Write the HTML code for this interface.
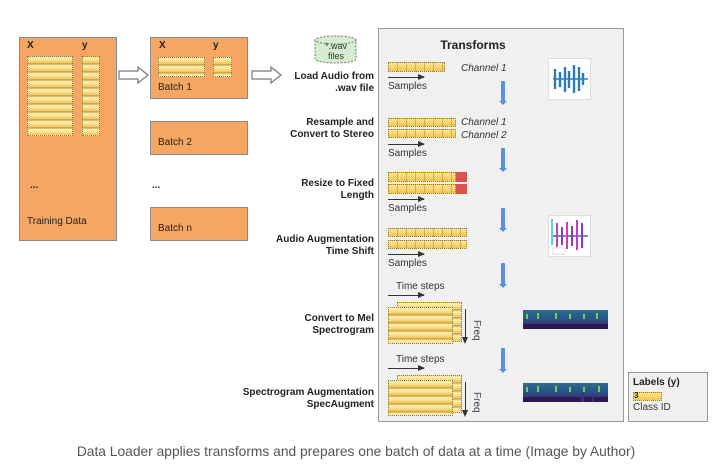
<!DOCTYPE html>
<html><head><meta charset="utf-8">
<style>
*{margin:0;padding:0;box-sizing:border-box}
body{width:712px;height:475px;background:#fff;position:relative;overflow:hidden;font-family:"Liberation Sans",Arial,sans-serif}
.a{position:absolute}
.or{position:absolute;border:1.5px solid #8a8a8a;background:#f5a662}
.b{font-weight:bold;font-size:10px;color:#222;line-height:12px}
.lbl{position:absolute;right:338px;text-align:right;font-weight:bold;font-size:10px;color:#222;line-height:12px;white-space:nowrap}
.st{position:absolute;border:1px dotted #8a7a40;background:repeating-linear-gradient(90deg,transparent 0 8px,rgba(120,100,40,.35) 8px 9px),linear-gradient(#fde49a,#f5c64a)}
.rows{position:absolute;border:1px dotted #8a7a40;background:repeating-linear-gradient(180deg,#fbe9a8 0 2px,#f3c550 6px,#b09040 7px,#fbe9a8 8px)}
.sm{position:absolute;font-size:10px;color:#333}
.it{position:absolute;font-size:10px;color:#333;font-style:italic}
.arr{position:absolute;height:1px;background:#333}
.arr:after{content:"";position:absolute;right:-1px;top:-3px;border-left:7px solid #333;border-top:3.5px solid transparent;border-bottom:3.5px solid transparent}
.bl{position:absolute;width:4px;background:#5b8fe0;border-radius:1px}
.bl:after{content:"";position:absolute;left:-2px;bottom:-3px;border-top:4px solid #5b8fe0;border-left:4px solid transparent;border-right:4px solid transparent}
</style></head><body>

<div class="or" style="left:19px;top:37px;width:98px;height:204px"></div>
<div class="a b" style="left:27px;top:40px">X</div>
<div class="a b" style="left:82px;top:40px">y</div>
<div class="rows" style="left:27px;top:56px;width:46px;height:80px"></div>
<div class="rows" style="left:82px;top:56px;width:18px;height:80px"></div>
<div class="a b" style="left:30px;top:180px">...</div>
<div class="a" style="left:27px;top:216px;font-size:10px;color:#222">Training Data</div>

<svg class="a" style="left:118px;top:66px" width="32" height="18"><path d="M1 5 H20 V1 L30 9 L20 17 V13 H1 Z" fill="#fff" stroke="#777" stroke-width="1.2"/></svg>
<svg class="a" style="left:251px;top:66px" width="32" height="18"><path d="M1 5 H20 V1 L30 9 L20 17 V13 H1 Z" fill="#fff" stroke="#777" stroke-width="1.2"/></svg>

<div class="or" style="left:150px;top:37px;width:98px;height:62px"></div>
<div class="a b" style="left:159px;top:40px">X</div>
<div class="a b" style="left:213px;top:40px">y</div>
<div class="rows" style="left:158px;top:57px;width:47px;height:20px"></div>
<div class="rows" style="left:213px;top:57px;width:19px;height:20px"></div>
<div class="a" style="left:158px;top:82px;font-size:10px;color:#222">Batch 1</div>
<div class="or" style="left:150px;top:121px;width:98px;height:34px"></div>
<div class="a" style="left:158px;top:137px;font-size:10px;color:#222">Batch 2</div>
<div class="a b" style="left:152px;top:180px">...</div>
<div class="or" style="left:150px;top:207px;width:98px;height:34px"></div>
<div class="a" style="left:158px;top:223px;font-size:10px;color:#222">Batch n</div>

<svg class="a" style="left:314px;top:35px" width="44" height="30"><path d="M1 5 V24 A20.5 4 0 0 0 42 24 V5" fill="#d5ecd0" stroke="#777" stroke-dasharray="2 1.5"/><ellipse cx="21.5" cy="5" rx="20.5" ry="4" fill="#d5ecd0" stroke="#777" stroke-dasharray="2 1.5"/></svg>
<div class="a" style="left:314px;top:41px;width:44px;text-align:center;font-size:9px;color:#333;line-height:10px">*.wav<br>files</div>

<div class="lbl" style="top:71px">Load Audio from<br>.wav file</div>
<div class="lbl" style="top:117px">Resample and<br>Convert to Stereo</div>
<div class="lbl" style="top:178px">Resize to Fixed<br>Length</div>
<div class="lbl" style="top:234px">Audio Augmentation<br>Time Shift</div>
<div class="lbl" style="top:313px">Convert to Mel<br>Spectrogram</div>
<div class="lbl" style="top:387px">Spectrogram Augmentation<br>SpecAugment</div>

<div class="a" style="left:378px;top:28px;width:246px;height:394px;background:#f0f0f0;border:1.5px solid #999"></div>
<div class="a" style="left:378px;top:38px;width:190px;text-align:center;font-weight:bold;font-size:12px;color:#222">Transforms</div>

<div class="st" style="left:388px;top:62px;width:57px;height:10px"></div>
<div class="it" style="left:461px;top:63px">Channel 1</div>
<div class="arr" style="left:388px;top:77px;width:36px"></div>
<div class="sm" style="left:388px;top:81px">Samples</div>
<div class="st" style="left:388px;top:118px;width:68px;height:9px"></div>
<div class="st" style="left:388px;top:129px;width:68px;height:9px"></div>
<div class="it" style="left:461px;top:117px">Channel 1</div>
<div class="it" style="left:461px;top:130px">Channel 2</div>
<div class="arr" style="left:388px;top:144px;width:36px"></div>
<div class="sm" style="left:388px;top:148px">Samples</div>
<div class="st" style="left:388px;top:172px;width:68px;height:10px"></div>
<div class="st" style="left:388px;top:184px;width:68px;height:10px"></div>
<div class="a" style="left:456px;top:172px;width:11px;height:10px;background:#d9534f"></div>
<div class="a" style="left:456px;top:184px;width:11px;height:10px;background:#d9534f"></div>
<div class="arr" style="left:388px;top:199px;width:36px"></div>
<div class="sm" style="left:388px;top:203px">Samples</div>
<div class="st" style="left:388px;top:228px;width:79px;height:9px"></div>
<div class="st" style="left:388px;top:240px;width:79px;height:9px"></div>
<div class="arr" style="left:388px;top:254px;width:36px"></div>
<div class="sm" style="left:388px;top:258px">Samples</div>
<div class="sm" style="left:396px;top:281px">Time steps</div>
<div class="arr" style="left:388px;top:295px;width:36px"></div>
<div class="rows" style="left:397px;top:302px;width:65px;height:40px"></div>
<div class="rows" style="left:388px;top:307px;width:65px;height:37px"></div>
<div class="a" style="left:465px;top:309px;width:1px;height:30px;background:#333"></div>
<div class="a" style="left:462px;top:337px;border-top:7px solid #333;border-left:3.5px solid transparent;border-right:3.5px solid transparent"></div>
<div class="a" style="top:320px;font-size:10px;color:#444;transform:rotate(90deg);transform-origin:left top;left:482px">Freq</div>
<div class="sm" style="left:396px;top:354px">Time steps</div>
<div class="arr" style="left:388px;top:368px;width:36px"></div>
<div class="rows" style="left:397px;top:375px;width:65px;height:38px"></div>
<div class="rows" style="left:388px;top:380px;width:65px;height:36px"></div>
<div class="a" style="left:465px;top:382px;width:1px;height:30px;background:#333"></div>
<div class="a" style="left:462px;top:410px;border-top:7px solid #333;border-left:3.5px solid transparent;border-right:3.5px solid transparent"></div>
<div class="a" style="font-size:10px;color:#444;transform:rotate(90deg);transform-origin:left top;left:482px;top:392px">Freq</div>

<div class="bl" style="left:501px;top:81px;height:21px"></div>
<div class="bl" style="left:501px;top:148px;height:21px"></div>
<div class="bl" style="left:501px;top:208px;height:21px"></div>
<div class="bl" style="left:501px;top:263px;height:22px"></div>
<div class="bl" style="left:501px;top:348px;height:22px"></div>

<svg class="a" style="left:548px;top:58px" width="43" height="42"><rect x=".5" y=".5" width="42" height="41" fill="#fff" stroke="#ddd"/>
<g stroke="#2b7bb9" stroke-width="2.4"><line x1="5" y1="21" x2="40" y2="21" stroke-width="1.5"/><line x1="7" y1="11" x2="7" y2="31"/><line x1="12" y1="14" x2="12" y2="29"/><line x1="17" y1="9" x2="17" y2="34"/><line x1="21" y1="13" x2="21" y2="30"/><line x1="26" y1="7" x2="26" y2="35"/><line x1="31" y1="9" x2="31" y2="33"/><line x1="35" y1="15" x2="35" y2="27"/></g></svg>
<svg class="a" style="left:548px;top:215px" width="43" height="42"><rect x=".5" y=".5" width="42" height="41" fill="#fff" stroke="#ddd"/>
<g stroke-width="2"><line x1="4" y1="4" x2="4" y2="30" stroke="#5cd6d6"/><line x1="5" y1="21" x2="40" y2="21" stroke="#5050c0" stroke-width="1.5"/><line x1="9" y1="8" x2="9" y2="32" stroke="#c040c0"/><line x1="14" y1="12" x2="14" y2="30" stroke="#8040c0"/><line x1="19" y1="7" x2="19" y2="34" stroke="#c040c0"/><line x1="24" y1="11" x2="24" y2="31" stroke="#8040c0"/><line x1="29" y1="5" x2="29" y2="35" stroke="#c040c0"/><line x1="34" y1="8" x2="34" y2="33" stroke="#8040c0"/></g>
<rect x="5" y="33" width="12" height="6" fill="#fff" stroke="#bbb" stroke-width=".5"/></svg>
<svg class="a" style="left:523px;top:310px" width="85" height="19"><defs><linearGradient id="g" x1="0" y1="0" x2="0" y2="1"><stop offset="0" stop-color="#2a6f8a"/><stop offset=".5" stop-color="#2d4f8a"/><stop offset="1" stop-color="#3b1c5c"/></linearGradient></defs><rect width="85" height="19" fill="url(#g)"/><rect y="14" width="85" height="5" fill="#2e1650"/>
<g fill="#6fd05a"><rect x="3" y="4" width="2" height="5"/><rect x="14" y="3" width="2" height="6"/><rect x="32" y="3" width="2" height="6"/><rect x="46" y="4" width="2" height="5"/><rect x="60" y="4" width="2" height="5"/><rect x="73" y="3" width="2" height="6"/></g></svg>
<svg class="a" style="left:523px;top:383px" width="85" height="19"><rect width="85" height="19" fill="url(#g)"/><rect y="14" width="85" height="5" fill="#2e1650"/>
<g fill="#6fd05a"><rect x="3" y="4" width="2" height="5"/><rect x="14" y="3" width="2" height="6"/><rect x="32" y="3" width="2" height="6"/><rect x="46" y="4" width="2" height="5"/><rect x="60" y="4" width="2" height="5"/><rect x="75" y="3" width="2" height="6"/></g><rect x="58" y="9" width="3" height="10" fill="#2b3a80"/><rect x="69" y="10" width="2" height="9" fill="#2b3a80"/></svg>

<div class="a" style="left:628px;top:372px;width:80px;height:50px;background:#f0f0f0;border:1.5px solid #999"></div>
<div class="a b" style="left:633px;top:377px">Labels (y)</div>
<div class="st" style="left:633px;top:392px;width:29px;height:9px;background:linear-gradient(#fde49a,#f5c64a)"></div>
<div class="a" style="left:634px;top:391px;font-size:8px;color:#222;font-weight:bold">3</div>
<div class="a" style="left:633px;top:402px;font-size:10px;color:#333">Class ID</div>

<div class="a" style="left:0;top:444px;width:712px;text-align:center;font-size:13.8px;color:#555">Data Loader applies transforms and prepares one batch of data at a time (Image by Author)</div>
</body></html>
